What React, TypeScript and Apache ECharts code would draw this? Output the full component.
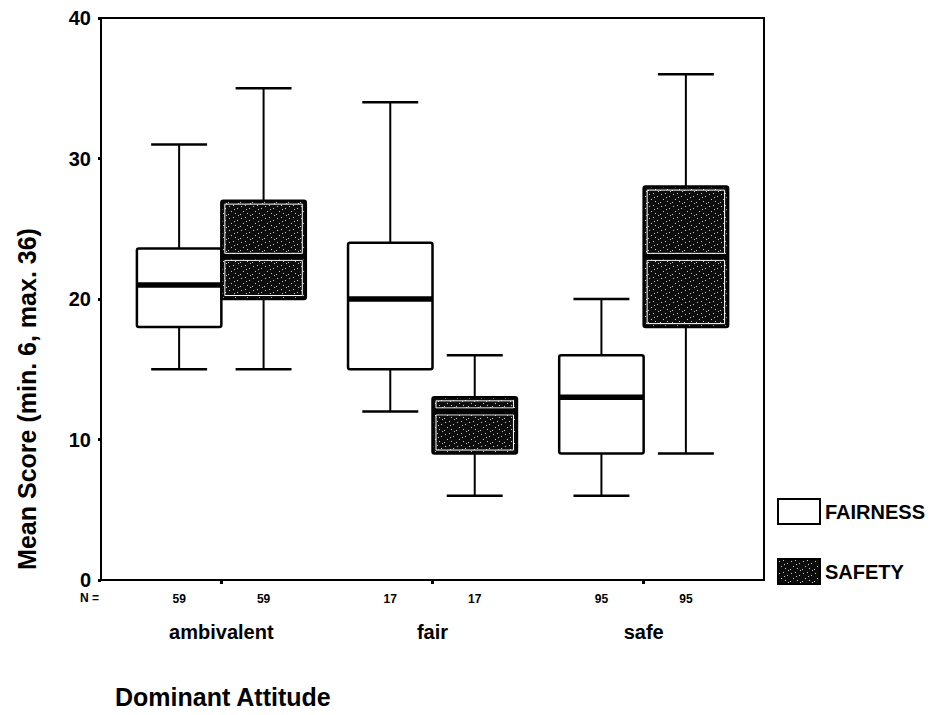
import React, { useEffect, useRef } from "react";
import * as echarts from "echarts";

const categories = ["ambivalent", "fair", "safe"];
const nCounts = [59, 17, 95];
// [min, Q1, median, Q3, max]
const fairness = [
  [15, 18, 21, 23.6, 31],
  [12, 15, 20, 24, 34],
  [6, 9, 13, 16, 20],
];
const safety = [
  [15, 20, 23, 27, 35],
  [6, 9, 12, 13, 16],
  [9, 18, 23, 28, 36],
];
const yTicks = [0, 10, 20, 30, 40];

const OFFSET = 0.2;
const BOX_W = 0.4;
const CAP_W = 0.265;
const FONT = "'Liberation Sans', Arial, sans-serif";

function makePattern() {
  const c = document.createElement("canvas");
  c.width = 12;
  c.height = 12;
  const ctx = c.getContext("2d");
  if (ctx) {
    ctx.fillStyle = "#0d0d0d";
    ctx.fillRect(0, 0, 12, 12);
    ctx.fillStyle = "rgba(255,255,255,0.8)";
    const dots = [[1, 2], [5, 1], [9, 4], [3, 7], [7, 9], [10, 11], [0, 10], [6, 5]];
    dots.forEach(([x, y]) => ctx.fillRect(x, y, 1, 1));
  }
  return c;
}

export default function App() {
  const ref = useRef<HTMLDivElement>(null);
  useEffect(() => {
    if (!ref.current) return;
    const chart = echarts.init(ref.current, null, { renderer: "svg" });
    const patternCanvas = makePattern();
    const darkFill: any = { image: patternCanvas, repeat: "repeat" };

    const nPositions: number[] = [];
    const nLabels: string[] = [];
    categories.forEach((_, i) => {
      nPositions.push(i + 1 - OFFSET, i + 1 + OFFSET);
      nLabels.push(String(nCounts[i]), String(nCounts[i]));
    });

    const makeRender = (dark: boolean) => (params: any, api: any) => {
      const x = api.value(0);
      const mn = api.value(1), q1 = api.value(2), md = api.value(3), q3 = api.value(4), mx = api.value(5);
      const boxW = api.size([BOX_W, 0])[0];
      const capW = api.size([CAP_W, 0])[0];
      const pMax = api.coord([x, mx]);
      const pMin = api.coord([x, mn]);
      const pQ1 = api.coord([x, q1]);
      const pQ3 = api.coord([x, q3]);
      const pMd = api.coord([x, md]);
      const cx = pMax[0];
      const left = cx - boxW / 2;
      const children: any[] = [
        { type: "line", shape: { x1: cx, y1: pMax[1], x2: cx, y2: pQ3[1] }, style: { stroke: "#000", lineWidth: 2 } },
        { type: "line", shape: { x1: cx, y1: pQ1[1], x2: cx, y2: pMin[1] }, style: { stroke: "#000", lineWidth: 2 } },
        { type: "line", shape: { x1: cx - capW / 2, y1: pMax[1], x2: cx + capW / 2, y2: pMax[1] }, style: { stroke: "#000", lineWidth: 2.5 } },
        { type: "line", shape: { x1: cx - capW / 2, y1: pMin[1], x2: cx + capW / 2, y2: pMin[1] }, style: { stroke: "#000", lineWidth: 2.5 } },
        {
          type: "rect",
          shape: { x: left, y: pQ3[1], width: boxW, height: pQ1[1] - pQ3[1], r: 2 },
          style: { fill: dark ? darkFill : "#fff", stroke: "#000", lineWidth: 2.5 },
        },
      ];
      if (dark) {
        const ins = 3.5;
        children.push(
          { type: "rect", shape: { x: left + ins, y: pQ3[1] + ins, width: boxW - 2 * ins, height: Math.max(0, pMd[1] - pQ3[1] - 2 * ins) }, style: { fill: "none", stroke: "#fff", lineWidth: 1 } },
          { type: "rect", shape: { x: left + ins, y: pMd[1] + ins, width: boxW - 2 * ins, height: Math.max(0, pQ1[1] - pMd[1] - 2 * ins) }, style: { fill: "none", stroke: "#fff", lineWidth: 1 } }
        );
      }
      children.push({ type: "line", shape: { x1: left, y1: pMd[1], x2: left + boxW, y2: pMd[1] }, style: { stroke: "#000", lineWidth: 5.5 } });
      return { type: "group", children };
    };

    const option: any = {
      animation: false,
      backgroundColor: "#fff",
      grid: { left: 101, right: 180, top: 18, bottom: 135, show: true, borderColor: "#000", borderWidth: 2, backgroundColor: "transparent" },
      xAxis: [
        {
          type: "value",
          min: 0.43,
          max: 3.57,
          position: "bottom",
          splitLine: { show: false },
          axisLine: { show: true, onZero: false, lineStyle: { color: "#000", width: 2 } },
          axisTick: { show: true, customValues: [1, 2, 3], length: 4, lineStyle: { color: "#000", width: 3 } },
          axisLabel: {
            show: true,
            customValues: [1, 2, 3],
            margin: 42,
            fontFamily: FONT,
            fontSize: 20,
            fontWeight: "bold",
            color: "#000",
            formatter: (v: number) => categories[Math.round(v) - 1] ?? "",
          },
        },
        {
          type: "value",
          min: 0.43,
          max: 3.57,
          position: "bottom",
          splitLine: { show: false },
          axisLine: { show: false },
          axisTick: { show: false },
          axisLabel: {
            show: true,
            customValues: nPositions,
            margin: 13,
            fontFamily: FONT,
            fontSize: 12,
            fontWeight: "bold",
            color: "#000",
            formatter: (v: number) => {
              const idx = nPositions.findIndex((p) => Math.abs(p - v) < 1e-6);
              return idx >= 0 ? nLabels[idx] : "";
            },
          },
        },
      ],
      yAxis: {
        type: "value",
        min: yTicks[0],
        max: yTicks[yTicks.length - 1],
        interval: 10,
        splitLine: { show: false },
        axisLine: { show: true, lineStyle: { color: "#000", width: 2 } },
        axisTick: { show: true, length: 3, lineStyle: { color: "#000", width: 3 } },
        axisLabel: { fontFamily: FONT, fontSize: 20, fontWeight: "bold", color: "#000", margin: 10 },
      },
      legend: {
        orient: "vertical",
        left: 777,
        top: 498,
        itemWidth: 42,
        itemHeight: 25,
        itemGap: 33,
        padding: 0,
        textStyle: { fontFamily: FONT, fontSize: 20, fontWeight: "bold", color: "#000" },
        data: [
          { name: "FAIRNESS", icon: "rect", itemStyle: { color: "#fff", borderColor: "#000", borderWidth: 2 } },
          { name: "SAFETY", icon: "rect", itemStyle: { color: darkFill, borderColor: "#000", borderWidth: 2 } },
        ],
      },
      graphic: [
        { type: "text", left: 80, top: 592, style: { text: "N =", font: `bold 12px ${FONT}`, fill: "#000" } },
        { type: "text", left: 115, top: 684, style: { text: "Dominant Attitude", font: `bold 25px ${FONT}`, fill: "#000" } },
        {
          type: "text",
          x: 27,
          y: 399,
          rotation: Math.PI / 2,
          style: { text: "Mean Score (min. 6, max. 36)", font: `bold 25px ${FONT}`, fill: "#000", align: "center", verticalAlign: "middle" },
        },
      ],
      series: [
        {
          name: "FAIRNESS",
          type: "custom",
          xAxisIndex: 0,
          itemStyle: { color: "#fff", borderColor: "#000" },
          renderItem: makeRender(false),
          data: fairness.map((d, i) => [i + 1 - OFFSET, ...d]),
          encode: { x: 0, y: [1, 2, 3, 4, 5] },
        },
        {
          name: "SAFETY",
          type: "custom",
          xAxisIndex: 0,
          itemStyle: { color: "#111", borderColor: "#000" },
          renderItem: makeRender(true),
          data: safety.map((d, i) => [i + 1 + OFFSET, ...d]),
          encode: { x: 0, y: [1, 2, 3, 4, 5] },
        },
      ],
    };
    chart.setOption(option);
    return () => chart.dispose();
  }, []);
  return <div ref={ref} style={{ width: 944, height: 715, position: "absolute", left: 0, top: 0 }} />;
}
